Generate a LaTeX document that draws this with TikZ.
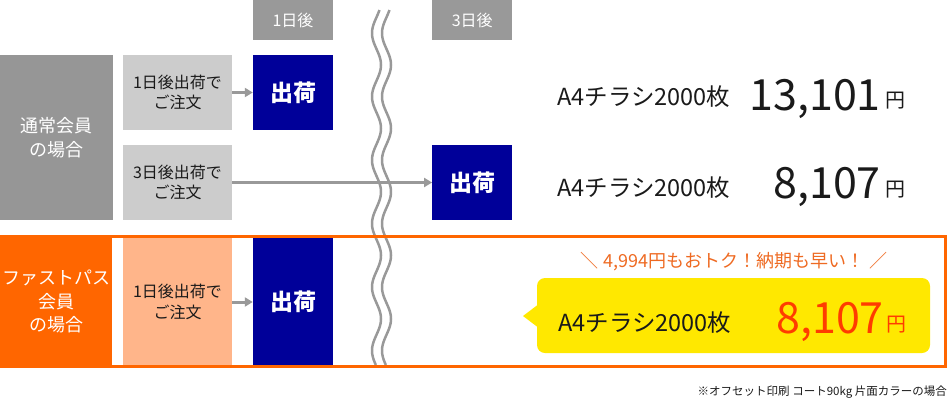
\documentclass[tikz,border=0pt]{standalone}
\usepackage{fontspec}
\setmainfont{Noto Sans CJK JP}
\usetikzlibrary{arrows.meta}
\definecolor{hdrgray}{HTML}{999999}
\definecolor{leftgray}{HTML}{969696}
\definecolor{ordgray}{HTML}{CCCCCC}
\definecolor{navy}{HTML}{000099}
\definecolor{fporange}{HTML}{FF6600}
\definecolor{peach}{HTML}{FFB58A}
\definecolor{callyellow}{HTML}{FFE800}
\definecolor{pricered}{HTML}{FF3C00}
\definecolor{msgorange}{HTML}{EE6A22}
\definecolor{txt}{HTML}{1A1A1A}
\begin{document}
\begin{tikzpicture}[x=1pt,y=-1pt,
  hdrbox/.style={fill=hdrgray,text=white,minimum width=80pt,minimum height=40pt,inner sep=0pt,font=\fontsize{16}{18}\selectfont},
  memberbox/.style={text=white,inner sep=0pt,align=center,font=\fontsize{18}{23.5}\selectfont},
  orderbox/.style={text=txt,minimum width=109pt,inner sep=0pt,align=center,font=\fontsize{16}{20.5}\selectfont},
  shipbox/.style={fill=navy,text=white,minimum width=80pt,inner sep=0pt,font=\fontsize{23}{25}\selectfont\bfseries},
  flowarrow/.style={draw=hdrgray,line width=3pt,-{Triangle[width=9pt,length=8pt]}},
  wave/.style={draw=hdrgray,line width=2.5pt},
  plabel/.style={inner sep=0pt,text=txt,font=\fontsize{23.5}{25}\selectfont},
  pbig/.style={inner sep=0pt,text=txt,font=\fontsize{43}{45}\selectfont},
  pyen/.style={inner sep=0pt,text=txt,font=\fontsize{20}{22}\selectfont}
  ]
\useasboundingbox (0,0) rectangle (950,400);
% headers
\node[hdrbox] (h1) at (293,20) {1日後};
\node[hdrbox] (h3) at (472.3,20) {3日後};
% regular member
\node[memberbox,fill=leftgray,minimum width=113pt,minimum height=165pt] (nm) at (56.5,137.5) {通常会員\\の場合};
\node[orderbox,fill=ordgray,minimum height=75pt] (o1) at (177.5,92.5) {1日後出荷で\\ご注文};
\node[shipbox,minimum height=75pt] (s1) at (293,92.5) {出荷};
\node[orderbox,fill=ordgray,minimum height=75pt] (o2) at (177.5,182.5) {3日後出荷で\\ご注文};
\node[shipbox,minimum height=75pt] (s2) at (472.3,182.5) {出荷};
\draw[flowarrow] (o1.east) -- (s1.west);
\draw[flowarrow] (o2.east) -- (s2.west);
% wave break
\draw[wave] plot[domain=10:365,samples=240,smooth] ({376.5+4.5*sin((\x-49)*5.6693)},\x);
\draw[wave] plot[domain=10:365,samples=240,smooth] ({386.5+4.5*sin((\x-49)*5.6693)},\x);
% fast pass
\node[memberbox,fill=fporange,minimum width=112pt,minimum height=133pt] (fp) at (56,301.5) {ファストパス\\会員\\の場合};
\node[orderbox,fill=peach,minimum height=128pt] (o3) at (177.5,302) {1日後出荷で\\ご注文};
\node[shipbox,minimum height=128pt] (s3) at (293,302) {出荷};
\draw[flowarrow] (o3.east) -- (s3.west);
\draw[fporange,line width=3pt] (1.5,236.5) rectangle (945.5,366.5);
% prices row 1
\node[plabel,anchor=base west] (l1) at (557,105) {A4チラシ2000枚};
\node[pbig,anchor=base east] (p1) at (881,110) {13,101};
\node[pyen,anchor=base west] (y1) at (885,107) {円};
% row 2
\node[plabel,anchor=base west] (l2) at (557,196.5) {A4チラシ2000枚};
\node[pbig,anchor=base east] (p2) at (881,198) {8,107};
\node[pyen,anchor=base west] (y2) at (885,196.5) {円};
% callout
\node[inner sep=0pt,text=msgorange,font=\fontsize{18}{20}\selectfont,anchor=base] (msg) at (734,267) {＼\hspace{5pt}4,994円もおトク！納期も早い！\hspace{5pt}／};
\fill[callyellow,rounded corners=8pt] (537,278) rectangle (930,353);
\fill[callyellow] (537.5,305) -- (523,316) -- (537.5,327) -- cycle;
\node[plabel,anchor=base west] (l3) at (558,331.5) {A4チラシ2000枚};
\node[pbig,text=pricered,anchor=base east] (p3) at (884,333) {8,107};
\node[pyen,text=pricered,anchor=base west] (y3) at (886,331.5) {円};
% footnote
\node[inner sep=0pt,text=txt,font=\fontsize{11.5}{13}\selectfont,anchor=base east] (fn) at (947,395) {※オフセット印刷 コート90kg 片面カラーの場合};
\end{tikzpicture}
\end{document}
